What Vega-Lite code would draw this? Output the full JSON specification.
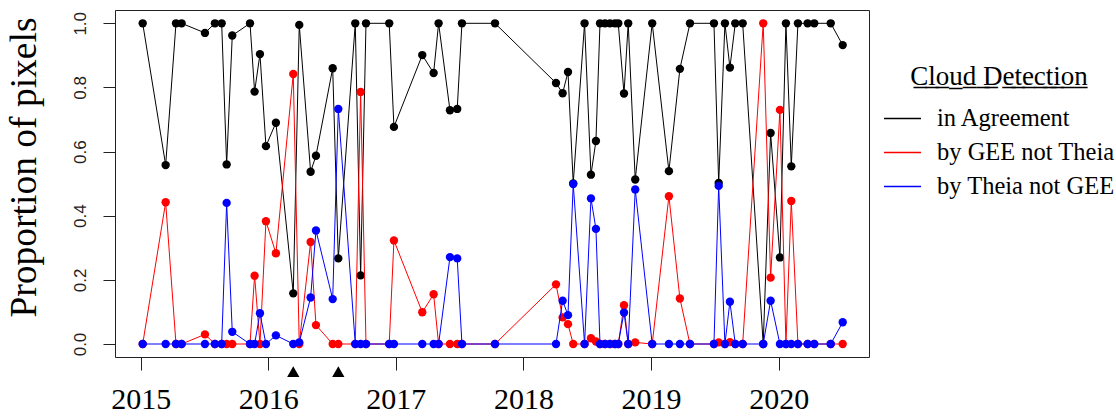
{
  "$schema": "https://vega.github.io/schema/vega-lite/v6.json",
  "width": 754,
  "height": 347,
  "autosize": {"type": "none"},
  "padding": {"left": 115, "top": 10, "right": 247, "bottom": 60},
  "background": "white",
  "config": {
    "view": {"stroke": "#222222", "strokeWidth": 1},
    "font": "Liberation Serif"
  },
  "layer": [
    {
      "data": {
        "values": [
          {"t": 2015.016, "agree": 1, "gee": 0, "theia": 0},
          {"t": 2015.196, "agree": 0.558, "gee": 0.442, "theia": 0},
          {"t": 2015.277, "agree": 1, "gee": 0, "theia": 0},
          {"t": 2015.321, "agree": 1, "gee": 0, "theia": 0},
          {"t": 2015.504, "agree": 0.97, "gee": 0.03, "theia": 0},
          {"t": 2015.582, "agree": 1, "gee": 0, "theia": 0},
          {"t": 2015.635, "agree": 1, "gee": 0, "theia": 0},
          {"t": 2015.674, "agree": 0.56, "gee": 0, "theia": 0.44},
          {"t": 2015.718, "agree": 0.962, "gee": 0, "theia": 0.038},
          {"t": 2015.857, "agree": 1, "gee": 0, "theia": 0},
          {"t": 2015.893, "agree": 0.787, "gee": 0.213, "theia": 0},
          {"t": 2015.935, "agree": 0.904, "gee": 0, "theia": 0.096},
          {"t": 2015.982, "agree": 0.617, "gee": 0.383, "theia": 0},
          {"t": 2016.06, "agree": 0.69, "gee": 0.283, "theia": 0.027},
          {"t": 2016.196, "agree": 0.158, "gee": 0.842, "theia": 0},
          {"t": 2016.243, "agree": 0.995, "gee": 0, "theia": 0.005},
          {"t": 2016.332, "agree": 0.537, "gee": 0.318, "theia": 0.145},
          {"t": 2016.374, "agree": 0.587, "gee": 0.059, "theia": 0.354},
          {"t": 2016.505, "agree": 0.86, "gee": 0, "theia": 0.14},
          {"t": 2016.549, "agree": 0.267, "gee": 0, "theia": 0.733},
          {"t": 2016.682, "agree": 1, "gee": 0, "theia": 0},
          {"t": 2016.724, "agree": 0.214, "gee": 0.786, "theia": 0},
          {"t": 2016.766, "agree": 1, "gee": 0, "theia": 0},
          {"t": 2016.948, "agree": 1, "gee": 0, "theia": 0},
          {"t": 2016.985, "agree": 0.677, "gee": 0.323, "theia": 0},
          {"t": 2017.207, "agree": 0.901, "gee": 0.099, "theia": 0},
          {"t": 2017.296, "agree": 0.845, "gee": 0.155, "theia": 0},
          {"t": 2017.335, "agree": 1, "gee": 0, "theia": 0},
          {"t": 2017.424, "agree": 0.729, "gee": 0, "theia": 0.271},
          {"t": 2017.481, "agree": 0.733, "gee": 0, "theia": 0.267},
          {"t": 2017.518, "agree": 1, "gee": 0, "theia": 0},
          {"t": 2017.777, "agree": 1, "gee": 0, "theia": 0},
          {"t": 2018.255, "agree": 0.814, "gee": 0.186, "theia": 0},
          {"t": 2018.307, "agree": 0.782, "gee": 0.083, "theia": 0.135},
          {"t": 2018.349, "agree": 0.848, "gee": 0.062, "theia": 0.09},
          {"t": 2018.39, "agree": 0.501, "gee": 0, "theia": 0.499},
          {"t": 2018.479, "agree": 1, "gee": 0, "theia": 0},
          {"t": 2018.529, "agree": 0.528, "gee": 0.018, "theia": 0.454},
          {"t": 2018.568, "agree": 0.633, "gee": 0.008, "theia": 0.359},
          {"t": 2018.6, "agree": 1, "gee": 0, "theia": 0},
          {"t": 2018.639, "agree": 1, "gee": 0, "theia": 0},
          {"t": 2018.678, "agree": 1, "gee": 0, "theia": 0},
          {"t": 2018.717, "agree": 1, "gee": 0, "theia": 0},
          {"t": 2018.743, "agree": 1, "gee": 0, "theia": 0},
          {"t": 2018.788, "agree": 0.781, "gee": 0.121, "theia": 0.098},
          {"t": 2018.821, "agree": 1, "gee": 0, "theia": 0},
          {"t": 2018.876, "agree": 0.513, "gee": 0.005, "theia": 0.482},
          {"t": 2019.009, "agree": 1, "gee": 0, "theia": 0},
          {"t": 2019.14, "agree": 0.539, "gee": 0.461, "theia": 0},
          {"t": 2019.226, "agree": 0.858, "gee": 0.142, "theia": 0},
          {"t": 2019.305, "agree": 1, "gee": 0, "theia": 0},
          {"t": 2019.493, "agree": 1, "gee": 0, "theia": 0},
          {"t": 2019.53, "agree": 0.502, "gee": 0.005, "theia": 0.493},
          {"t": 2019.579, "agree": 1, "gee": 0, "theia": 0},
          {"t": 2019.618, "agree": 0.862, "gee": 0.006, "theia": 0.132},
          {"t": 2019.66, "agree": 1, "gee": 0, "theia": 0},
          {"t": 2019.718, "agree": 1, "gee": 0, "theia": 0},
          {"t": 2019.879, "agree": 0, "gee": 1, "theia": 0},
          {"t": 2019.937, "agree": 0.658, "gee": 0.207, "theia": 0.135},
          {"t": 2020.01, "agree": 0.27, "gee": 0.73, "theia": 0},
          {"t": 2020.057, "agree": 1, "gee": 0, "theia": 0},
          {"t": 2020.099, "agree": 0.554, "gee": 0.446, "theia": 0},
          {"t": 2020.151, "agree": 1, "gee": 0, "theia": 0},
          {"t": 2020.227, "agree": 1, "gee": 0, "theia": 0},
          {"t": 2020.279, "agree": 1, "gee": 0, "theia": 0},
          {"t": 2020.408, "agree": 1, "gee": 0, "theia": 0},
          {"t": 2020.502, "agree": 0.932, "gee": 0, "theia": 0.068}
        ]
      },
      "transform": [{"fold": ["agree", "gee", "theia"], "as": ["series", "value"]}],
      "encoding": {
        "x": {
          "field": "t",
          "type": "quantitative",
          "scale": {"domain": [2014.799, 2020.708], "nice": false, "zero": false},
          "axis": {
            "title": null,
            "values": [2015, 2016, 2017, 2018, 2019, 2020],
            "format": "d",
            "domain": false,
            "grid": false,
            "tickSize": 13,
            "tickColor": "#222222",
            "labelFont": "Liberation Serif",
            "labelFontSize": 30,
            "labelColor": "black",
            "labelPadding": 14,
            "labelFlush": false,
            "labelOverlap": false
          }
        },
        "y": {
          "field": "value",
          "type": "quantitative",
          "scale": {"domain": [-0.0405, 1.0415], "nice": false, "zero": false},
          "axis": {
            "title": "Proportion of pixels",
            "values": [0, 0.2, 0.4, 0.6, 0.8, 1],
            "format": ".1f",
            "domain": false,
            "grid": false,
            "tickSize": 12,
            "tickColor": "#222222",
            "labelAngle": -90,
            "labelFont": "Liberation Sans",
            "labelFontSize": 17,
            "labelColor": "#222222",
            "labelPadding": 14,
            "titleFont": "Liberation Serif",
            "titleFontSize": 37.5,
            "titleFontWeight": "normal",
            "titleColor": "black",
            "titlePadding": 28,
            "titleY": 157
          }
        }
      },
      "layer": [
        {
          "transform": [{"filter": "datum.series == 'agree'"}],
          "mark": {"type": "line", "strokeWidth": 1},
          "encoding": {
            "color": {
              "field": "series",
              "type": "nominal",
              "scale": {"domain": ["agree", "gee", "theia"], "range": ["#000000", "#ff0000", "#0000ff"]},
              "legend": {
                "title": "C̲l̲o̲u̲d̲ ̲D̲e̲t̲e̲c̲t̲i̲o̲n̲",
                "orient": "none",
                "legendX": 768,
                "legendY": 54,
                "symbolType": "stroke",
                "symbolSize": 1369,
                "symbolStrokeWidth": 1.5,
                "titleFont": "Liberation Serif",
                "titleFontSize": 27,
                "titleFontWeight": "normal",
                "titleColor": "black",
                "titleAnchor": "middle",
                "titlePadding": 8,
                "titleLimit": 400,
                "labelFont": "Liberation Serif",
                "labelFontSize": 24.5,
                "labelColor": "black",
                "labelOffset": 15,
                "labelLimit": 300,
                "rowPadding": 3,
                "labelExpr": "datum.label == 'agree' ? 'in Agreement' : datum.label == 'gee' ? 'by GEE not Theia' : 'by Theia not GEE'"
              }
            }
          }
        },
        {
          "transform": [{"filter": "datum.series == 'agree'"}],
          "mark": {"type": "point", "filled": true, "opacity": 1, "size": 70},
          "encoding": {"color": {"field": "series", "type": "nominal", "legend": null}}
        },
        {
          "transform": [{"filter": "datum.series == 'gee'"}],
          "mark": {"type": "line", "strokeWidth": 1},
          "encoding": {"color": {"field": "series", "type": "nominal"}}
        },
        {
          "transform": [{"filter": "datum.series == 'gee'"}],
          "mark": {"type": "point", "filled": true, "opacity": 1, "size": 70},
          "encoding": {"color": {"field": "series", "type": "nominal", "legend": null}}
        },
        {
          "transform": [{"filter": "datum.series == 'theia'"}],
          "mark": {"type": "line", "strokeWidth": 1},
          "encoding": {"color": {"field": "series", "type": "nominal"}}
        },
        {
          "transform": [{"filter": "datum.series == 'theia'"}],
          "mark": {"type": "point", "filled": true, "opacity": 1, "size": 70},
          "encoding": {"color": {"field": "series", "type": "nominal", "legend": null}}
        }
      ]
    },
    {
      "data": {"values": [{"t": 2016.196}, {"t": 2016.549}]},
      "mark": {"type": "point", "shape": "triangle-up", "filled": true, "opacity": 1, "color": "black", "size": 150, "clip": false},
      "encoding": {
        "x": {"field": "t", "type": "quantitative"},
        "y": {"datum": -0.086, "type": "quantitative"}
      }
    }
  ]
}
